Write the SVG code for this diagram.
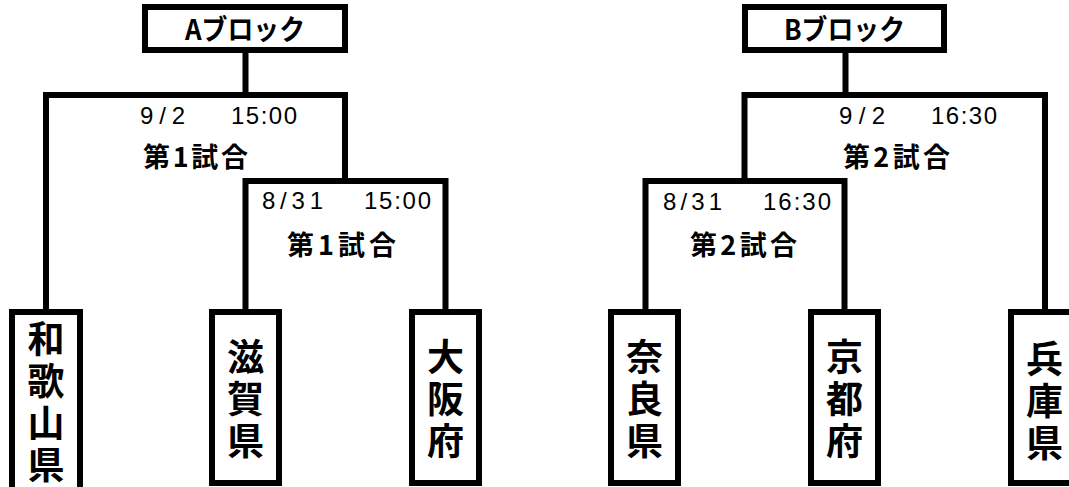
<svg xmlns="http://www.w3.org/2000/svg" width="1069" height="487" viewBox="0 0 1069 487">
<style>
.box{fill:#fff;stroke:#000;stroke-width:6}
.ln{fill:none;stroke:#000;stroke-width:6;stroke-linejoin:miter;stroke-linecap:square}
.hd{font-family:"Noto Sans CJK JP","Liberation Sans",sans-serif;font-size:28px;font-weight:bold;fill:#000}
.dt{font-family:"Liberation Sans","Noto Sans CJK JP",sans-serif;font-size:24px;fill:#000}
.mt{font-family:"Noto Sans CJK JP",sans-serif;font-size:27px;font-weight:bold;fill:#000}
.pf{font-family:"Noto Sans CJK JP",sans-serif;font-size:37px;font-weight:bold;fill:#000;writing-mode:vertical-rl;letter-spacing:5px}
</style>
<rect width="1069" height="487" fill="#fff"/>
<g id="connectors">
<path class="ln" d="M245.5,50 V95"/>
<path class="ln" d="M46,309 V95 H345 V181"/>
<path class="ln" d="M245.5,309 V181 H445.5 V309"/>
<path class="ln" d="M845.5,50 V95"/>
<path class="ln" d="M744.5,181 V95 H1045 V309"/>
<path class="ln" d="M645.5,309 V181 H844.5 V309"/>
</g>
<g id="match-a-final">
<text class="dt" y="124"><tspan x="140" textLength="45" lengthAdjust="spacing">9/2</tspan><tspan>　</tspan><tspan x="231" textLength="66" lengthAdjust="spacing">15:00</tspan></text>
<text class="mt" x="143" y="167" textLength="105" lengthAdjust="spacing">第1試合</text>
</g>
<g id="match-a-semi">
<text class="dt" y="209"><tspan x="262" textLength="61" lengthAdjust="spacing">8/31</tspan><tspan>　</tspan><tspan x="364" textLength="67" lengthAdjust="spacing">15:00</tspan></text>
<text class="mt" x="287" y="255" textLength="109" lengthAdjust="spacing">第1試合</text>
</g>
<g id="match-b-final">
<text class="dt" y="124"><tspan x="839" textLength="46" lengthAdjust="spacing">9/2</tspan><tspan>　</tspan><tspan x="931" textLength="66" lengthAdjust="spacing">16:30</tspan></text>
<text class="mt" x="843" y="167" textLength="107" lengthAdjust="spacing">第2試合</text>
</g>
<g id="match-b-semi">
<text class="dt" y="210"><tspan x="663" textLength="59" lengthAdjust="spacing">8/31</tspan><tspan>　</tspan><tspan x="763" textLength="68" lengthAdjust="spacing">16:30</tspan></text>
<text class="mt" x="690" y="255" textLength="107" lengthAdjust="spacing">第2試合</text>
</g>
<g id="block-a">
<rect class="box" x="145" y="7" width="200" height="43"/>
<text class="hd" x="185" y="40" textLength="120" lengthAdjust="spacingAndGlyphs">Aブロック</text>
</g>
<g id="block-b">
<rect class="box" x="745" y="7" width="199" height="43"/>
<text class="hd" x="784" y="40" textLength="121" lengthAdjust="spacingAndGlyphs">Bブロック</text>
</g>
<g id="wakayama">
<rect class="box" x="12" y="312" width="68" height="200"/>
<text class="pf" x="46" y="320">和歌山県</text>
</g>
<g id="shiga">
<rect class="box" x="212" y="312" width="67" height="171"/>
<text class="pf" x="245.5" y="338">滋賀県</text>
</g>
<g id="osaka">
<rect class="box" x="412" y="312" width="67" height="171"/>
<text class="pf" x="445.5" y="338">大阪府</text>
</g>
<g id="nara">
<rect class="box" x="611" y="312" width="67" height="171"/>
<text class="pf" x="644.5" y="338">奈良県</text>
</g>
<g id="kyoto">
<rect class="box" x="811" y="312" width="67" height="171"/>
<text class="pf" x="844.5" y="338">京都府</text>
</g>
<g id="hyogo">
<rect class="box" x="1011" y="312" width="67" height="171"/>
<text class="pf" x="1044.5" y="340">兵庫県</text>
</g>
</svg>
